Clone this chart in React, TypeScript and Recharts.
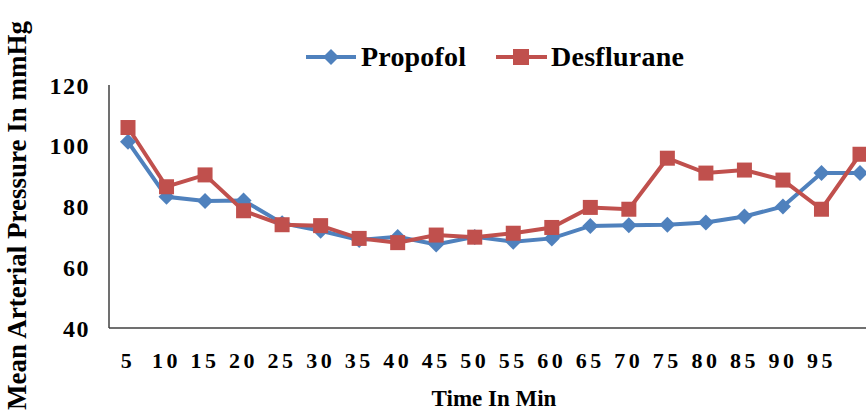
import React from 'react';
import { LineChart, Line, XAxis, YAxis } from 'recharts';

const minutes = ['5', '10', '15', '20', '25', '30', '35', '40', '45', '50', '55', '60', '65', '70', '75', '80', '85', '90', '95', ''];
const propofol = [101.3, 83.2, 81.8, 82, 74.5, 72, 69, 70, 67.5, 70, 68.4, 69.5, 73.6, 73.8, 74, 74.7, 76.7, 80, 91, 91];
const desflurane = [106, 86.5, 90.4, 78.6, 74, 73.7, 69.5, 68.1, 70.6, 69.9, 71.2, 73.1, 79.7, 79.1, 95.9, 91, 92, 88.7, 79.1, 97.2];
const yTicks = [40, 60, 80, 100, 120];

const BLUE = '#4F81BD';
const RED = '#C0504D';
const FONT = '"Liberation Serif", serif';

const data = minutes.map((m, i) => ({ min: m, propofol: propofol[i], desflurane: desflurane[i] }));

const Diamond = (props: any) => {
  const { cx, cy, fill, size = 8 } = props;
  if (cx == null || cy == null) return null;
  return <path d={`M${cx},${cy - size}L${cx + size},${cy}L${cx},${cy + size}L${cx - size},${cy}Z`} fill={fill} />;
};

const Square = (props: any) => {
  const { cx, cy, fill, size = 7.5 } = props;
  if (cx == null || cy == null) return null;
  return <rect x={cx - size} y={cy - size} width={size * 2} height={size * 2} fill={fill} />;
};

// legend drawn separately so it doesn't eat plot space
const LegendBox = () => (
  <svg width={420} height={40} style={{ position: 'absolute', left: 306, top: 37, overflow: 'visible' }}>
    <line x1={0} y1={20} x2={50} y2={20} stroke={BLUE} strokeWidth={4} />
    <Diamond cx={25} cy={20} size={8} fill={BLUE} />
    <text x={55} y={29} fontFamily={FONT} fontWeight="bold" fontSize={28} fill="#000" textLength={105}>Propofol</text>
    <line x1={190} y1={20} x2={241} y2={20} stroke={RED} strokeWidth={4} />
    <Square cx={215} cy={20} size={8} fill={RED} />
    <text x={245} y={29} fontFamily={FONT} fontWeight="bold" fontSize={28} fill="#000" textLength={133}>Desflurane</text>
  </svg>
);

export default function App() {
  return (
    <div style={{ position: 'fixed', left: 0, top: 0, width: 866, height: 414, overflow: 'hidden', background: '#fff' }}>
      <LineChart width={900} height={414} data={data} margin={{ top: 85, right: 21, left: 0, bottom: 0 }}>
        <XAxis
          dataKey="min"
          height={86}
          padding={{ left: 19, right: 19 }}
          tickLine={false}
          axisLine={{ stroke: '#404040', strokeWidth: 1.5 }}
          interval={0}
          tickMargin={18}
          tick={{ fontFamily: FONT, fontWeight: 'bold', fontSize: 22, fill: '#000', letterSpacing: 3.5 }}
          label={{ value: 'Time In Min', position: 'insideBottom', offset: 8, fontFamily: FONT, fontWeight: 'bold', fontSize: 23, fill: '#000' }}
        />
        <YAxis
          width={109}
          domain={[40, 120]}
          ticks={yTicks}
          tickLine={false}
          tickSize={0}
          tickMargin={19}
          axisLine={{ stroke: '#404040', strokeWidth: 1.5 }}
          tick={{ fontFamily: FONT, fontWeight: 'bold', fontSize: 24, fill: '#000', letterSpacing: 1.5 }}
          label={{ value: 'Mean Arterial Pressure In mmHg', angle: -90, position: 'insideLeft', dx: 11, dy: 9, fontFamily: FONT, fontWeight: 'bold', fontSize: 27, fill: '#000', style: { textAnchor: 'middle' } }}
        />
        <Line dataKey="propofol" name="Propofol" stroke={BLUE} strokeWidth={4} dot={<Diamond fill={BLUE} size={8} />} isAnimationActive={false} />
        <Line dataKey="desflurane" name="Desflurane" stroke={RED} strokeWidth={4} dot={<Square fill={RED} size={7.5} />} isAnimationActive={false} />
      </LineChart>
      <LegendBox />
    </div>
  );
}
